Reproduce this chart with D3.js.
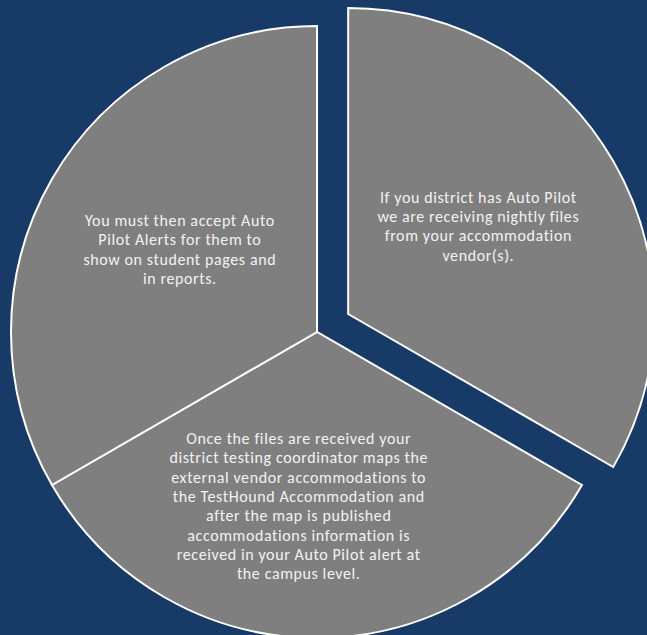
<!doctype html>
<html lang="en">
<head>
    <meta charset="UTF-8">
    <title>Auto Pilot</title>
    <style>
        html, body { margin: 0; padding: 0; background: #183a66; overflow: hidden; }
        svg { display: block; }
    </style>
</head>
<body>
    <svg width="647" height="635"></svg>
    <script src="https://cdn.jsdelivr.net/npm/d3@7"></script>
    <script>
        // three equal steps, clockwise from 12 o'clock
        const steps = ['receive', 'map', 'accept']
        const values = [1, 1, 1]
        const labels = [
            ['If you district has Auto Pilot', 'we are receiving nightly files', 'from your accommodation', 'vendor(s).'],
            ['Once the files are received your', 'district testing coordinator maps the', 'external vendor accommodations to',
             'the TestHound Accommodation and', 'after the map is published', 'accommodations information is',
             'received in your Auto Pilot alert at', 'the campus level.'],
            ['You must then accept Auto', 'Pilot Alerts for them to', 'show on student pages and', 'in reports.']
        ]
        const exploded = ['receive']

        const svg = d3.select('svg')
        const cx = 317, cy = 332, r = 306, pull = 36
        const lineH = 19.3

        // where SmartArt put each text box (angle in degrees, fraction of radius)
        const labelSpot = [{a: 56, k: 0.513}, {a: 186, k: 0.572}, {a: 301, k: 0.523}]

        const pie = d3.pie().sort(null).value(d => d)
        const arcs = pie(values)
        const arc = d3.arc().innerRadius(0).outerRadius(r)

        const g = svg.append('g').attr('transform', `translate(${cx},${cy})`)

        const slice = g.selectAll('g.slice')
            .data(arcs)
            .enter()
            .append('g')
            .attr('class', 'slice')
            .attr('transform', (d, i) => {
                if (!exploded.includes(steps[i])) return null
                const mid = (d.startAngle + d.endAngle) / 2
                return `translate(${Math.sin(mid) * pull},${-Math.cos(mid) * pull})`
            })

        slice.append('path')
            .attr('d', arc)
            .attr('fill', '#7f7f7f')
            .attr('stroke', '#ffffff')
            .attr('stroke-width', 2)
            .attr('stroke-linejoin', 'miter')

        slice.append('text')
            .attr('transform', (d, i) => {
                const s = labelSpot[i]
                const a = s.a * Math.PI / 180
                return `translate(${Math.sin(a) * s.k * r},${-Math.cos(a) * s.k * r})`
            })
            .attr('text-anchor', 'middle')
            .attr('fill', '#f2f2f2')
            .style('font-family', 'Carlito, Calibri, Lato, sans-serif')
            .style('font-size', '16px')
            .style('letter-spacing', '0.6px')
            .each(function (d, i) {
                const lines = labels[i]
                const t = d3.select(this)
                const y0 = -(lines.length - 1) / 2 * lineH + 5.5
                lines.forEach((l, j) => {
                    t.append('tspan')
                        .attr('x', 0)
                        .attr('y', y0 + j * lineH)
                        .text(l)
                })
            })
    </script>
</body>
</html>
